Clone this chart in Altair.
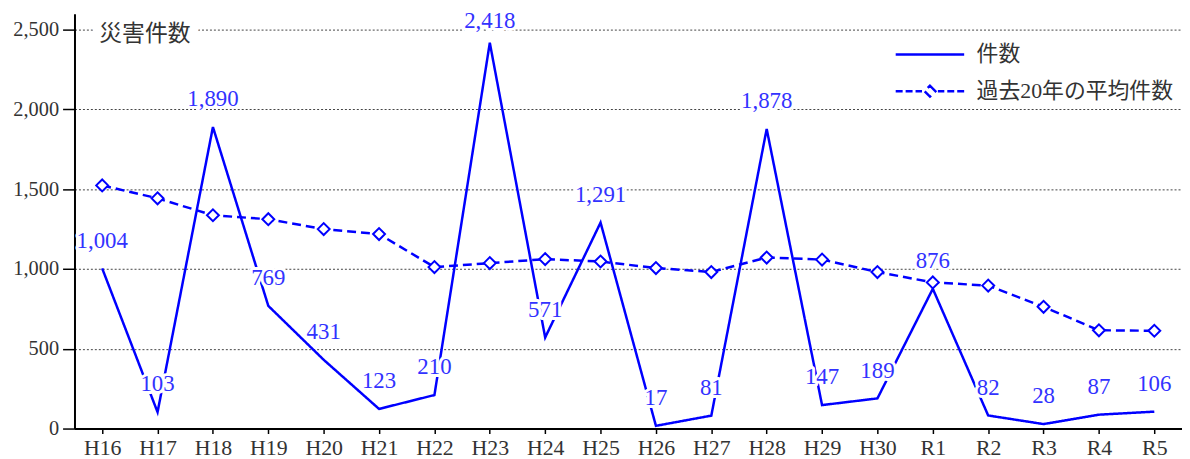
import altair as alt
import pandas as pd

years = ["H16", "H17", "H18", "H19", "H20", "H21", "H22", "H23", "H24", "H25",
         "H26", "H27", "H28", "H29", "H30", "R1", "R2", "R3", "R4", "R5"]
counts = [1004, 103, 1890, 769, 431, 123, 210, 2418, 571, 1291,
          17, 81, 1878, 147, 189, 876, 82, 28, 87, 106]
avg20 = [1524, 1443, 1337, 1312, 1250, 1219, 1012, 1037, 1062, 1047,
         1006, 981, 1072, 1059, 981, 916, 896, 763, 616, 613]
series_names = ["件数", "過去20年の平均件数"]
y_ticks = [0, 500, 1000, 1500, 2000, 2500]
chart_label = ["災害件数"]

BLUE = "#0000ff"
LABEL_BLUE = "#3232ff"
TEXT = "#333333"
FONT = "Liberation Serif, Noto Sans CJK JP"
JFONT = "Noto Sans CJK JP"

# legend symbols (unit = sqrt(symbolSize)/2 = 5px)
SOLID_PATH = "M-6.9,0H6.9"
DASH_PATH = ("M-6.9,0H-5.5M-4.9,0H-3.5M-2.9,0H-1.6"
             "M0,-1.1L1.1,0L0,1.1L-1.1,0Z"
             "M1.6,0H2.9M3.5,0H4.9M5.5,0H6.9")
symbol_expr = "datum.value === '%s' ? '%s' : '%s'" % (series_names[0], SOLID_PATH, DASH_PATH)

df = pd.DataFrame({
    "year": years + years,
    "value": counts + avg20,
    "series": [series_names[0]] * len(years) + [series_names[1]] * len(years),
})

x_axis = alt.Axis(title=None, labelAngle=0, labelFont=FONT, labelFontSize=22,
                  labelColor=TEXT, tickSize=5, tickColor="black", tickWidth=1.5,
                  domainColor="black", domainWidth=2, labelPadding=14,
                  grid=False, labelBaseline="middle")
y_axis = alt.Axis(title=None, values=y_ticks, labelExpr="format(datum.value, ',')",
                  labelFont=FONT, labelFontSize=20.5, labelColor=TEXT, tickSize=12,
                  tickColor="black", tickWidth=1.5, domainColor="black",
                  domainWidth=2, labelPadding=4, grid=True,
                  gridDash=[2, 2], gridColor="#444444", gridWidth=1)
y_scale = alt.Scale(domain=[0, 2600], nice=False, zero=True)

x_enc = alt.X("year:N", sort=years, scale=alt.Scale(padding=0.5), axis=x_axis)
y_enc = alt.Y("value:Q", scale=y_scale, axis=y_axis)

base = alt.Chart(df).encode(x=x_enc, y=y_enc)

legend = alt.Legend(
    title=None, orient="none", legendX=851, legendY=30,
    symbolType={"expr": symbol_expr},
    symbolSize=100, symbolStrokeWidth=2.5, symbolStrokeColor=BLUE,
    symbolFillColor="white", symbolDash=[1, 0],
    labelFont=FONT, labelFontSize=22, labelColor=TEXT, labelOffset=36,
    labelLimit=400, rowPadding=15,
)

lines = base.transform_calculate(
    dash_key="datum.series"
).mark_line(strokeWidth=2.5).encode(
    color=alt.Color("series:N",
                    scale=alt.Scale(domain=series_names, range=[BLUE, BLUE]),
                    legend=legend),
    strokeDash=alt.StrokeDash("dash_key:N",
                              scale=alt.Scale(domain=series_names, range=[[1, 0], [9, 5]]),
                              legend=None),
)

points = base.transform_filter(
    alt.datum.series == series_names[1]
).mark_point(shape="diamond", size=144, filled=True, fill="white",
             stroke=BLUE, strokeWidth=2, opacity=1)

lab_base = base.transform_filter(
    alt.datum.series == series_names[0]
).transform_calculate(
    label_y="min(datum.value, 2380)"
).encode(
    y=alt.Y("label_y:Q", scale=y_scale, axis=y_axis),
    text=alt.Text("value:Q", format=","),
)

halo = lab_base.mark_text(dy=-28, font=FONT, fontSize=23, baseline="middle",
                          stroke="white", strokeWidth=6, strokeJoin="round", color="white")
labels = lab_base.mark_text(dy=-28, font=FONT, fontSize=23, baseline="middle",
                            color=LABEL_BLUE)

title_df = pd.DataFrame({"t": chart_label})
title_halo = alt.Chart(title_df).mark_text(
    align="left", baseline="middle", fontSize=23, font=JFONT, color="white",
    stroke="white", strokeWidth=18, strokeJoin="round"
).encode(x=alt.value(25), y=alt.value(20), text="t:N")
title_txt = alt.Chart(title_df).mark_text(
    align="left", baseline="middle", fontSize=23, font=JFONT, color=TEXT
).encode(x=alt.value(25), y=alt.value(20), text="t:N")

chart = alt.layer(lines, points, halo, labels, title_halo, title_txt).properties(
    width=1116, height=418,
    autosize=alt.AutoSizeParams(type="none"),
    padding={"left": 67, "top": 4, "right": 0, "bottom": 42},
).configure_view(stroke=None)

chart.save("out.html", embed_options={"renderer": "svg", "actions": False})
